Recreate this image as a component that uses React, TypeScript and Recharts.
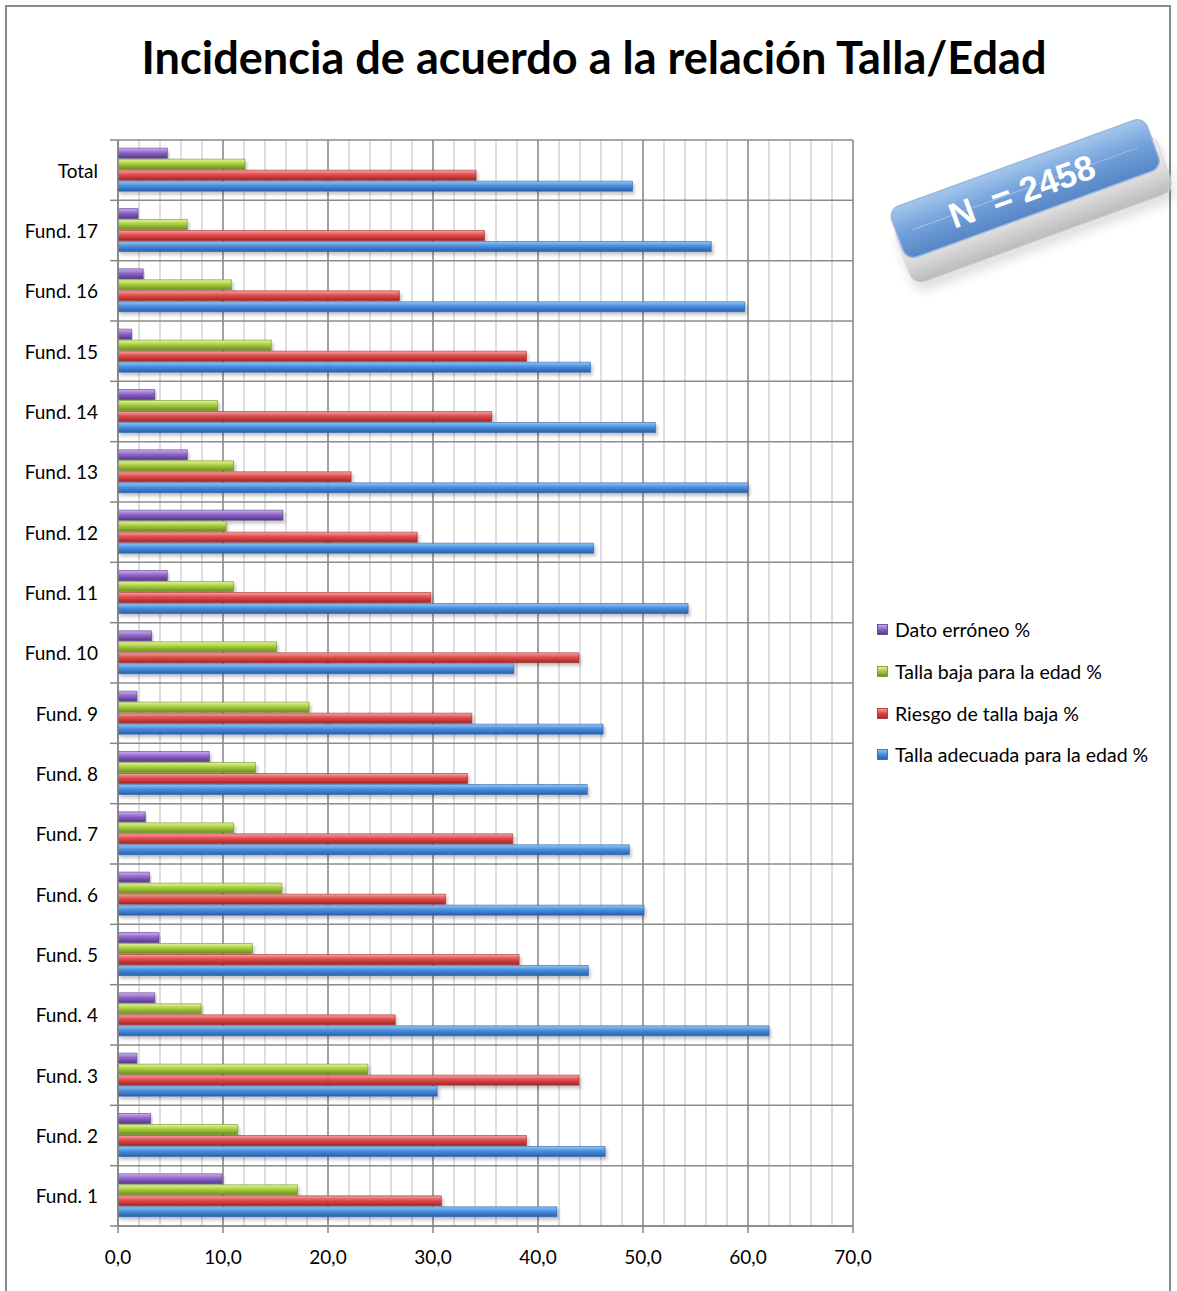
import React from 'react';
import { BarChart, Bar, XAxis, YAxis, CartesianGrid, Legend } from 'recharts';

const categories = ['Fund. 1', 'Fund. 2', 'Fund. 3', 'Fund. 4', 'Fund. 5', 'Fund. 6', 'Fund. 7', 'Fund. 8', 'Fund. 9', 'Fund. 10', 'Fund. 11', 'Fund. 12', 'Fund. 13', 'Fund. 14', 'Fund. 15', 'Fund. 16', 'Fund. 17', 'Total'];
const datoErroneo = [9.9, 3.1, 1.8, 3.5, 3.9, 3.0, 2.6, 8.7, 1.8, 3.2, 4.7, 15.7, 6.6, 3.5, 1.3, 2.4, 1.9, 4.7];
const tallaBaja = [17.1, 11.4, 23.8, 7.9, 12.8, 15.6, 11.0, 13.1, 18.2, 15.1, 11.0, 10.3, 11.0, 9.5, 14.6, 10.8, 6.6, 12.1];
const riesgo = [30.8, 38.9, 43.9, 26.4, 38.2, 31.2, 37.6, 33.3, 33.7, 43.9, 29.8, 28.5, 22.2, 35.6, 38.9, 26.8, 34.9, 34.1];
const adecuada = [41.8, 46.4, 30.4, 62.0, 44.8, 50.1, 48.7, 44.7, 46.2, 37.7, 54.3, 45.3, 60.0, 51.2, 45.0, 59.7, 56.5, 49.0];

const seriesNames = ['Dato erróneo %', 'Talla baja para la edad %', 'Riesgo de talla baja %', 'Talla adecuada para la edad %'];
const seriesKeys = ['dato', 'baja', 'riesgo', 'adecuada'];
const xTicks = [0, 10, 20, 30, 40, 50, 60, 70];
const minorTicks = [0, 2, 4, 6, 8, 10, 12, 14, 16, 18, 20, 22, 24, 26, 28, 30, 32, 34, 36, 38, 40, 42, 44, 46, 48, 50, 52, 54, 56, 58, 60, 62, 64, 66, 68, 70];
const X_MAX = 70;
const title = 'Incidencia de acuerdo a la relación Talla/Edad';
const badgeText = 'N  = 2458';

const gradients = [
  { id: 'gPurple', stops: ['#cdb0f0', '#8f66c8', '#56378a'] },
  { id: 'gGreen', stops: ['#e4f79a', '#a9cd3e', '#6a8e22'] },
  { id: 'gRed', stops: ['#f6a6a6', '#e04c4c', '#a32626'] },
  { id: 'gBlue', stops: ['#93c8f6', '#4a8fdc', '#2860ab'] },
];

const data = categories
  .map((c, i) => ({ name: c, dato: datoErroneo[i], baja: tallaBaja[i], riesgo: riesgo[i], adecuada: adecuada[i] }))
  .reverse();

const FONT = 'Lato, "Open Sans", sans-serif';
const LABEL_SIZE = 19;
const LEGEND_SIZE = 19.5;

const YTick = (props: any) => {
  const { x, y, payload, index } = props;
  const band = 1086 / categories.length;
  const axisX = 118;
  return (
    <g>
      <line x1={axisX - 8} x2={axisX} y1={y - band / 2} y2={y - band / 2} stroke="#868686" strokeWidth={1.5} />
      {index === categories.length - 1 && (
        <line x1={axisX - 8} x2={axisX} y1={y + band / 2} y2={y + band / 2} stroke="#868686" strokeWidth={1.5} />
      )}
      <text x={x - 12} y={y} textAnchor="end" dominantBaseline="central" fontSize={LABEL_SIZE} fontFamily={FONT} fill="#000">
        {payload.value}
      </text>
    </g>
  );
};

const LegendContent = () => (
  <div style={{ fontFamily: FONT, fontSize: LEGEND_SIZE, color: '#000' }}>
    {seriesNames.map((name, i) => (
      <div key={name} style={{ height: 41.7, display: 'flex', alignItems: 'center' }}>
        <svg width={11} height={11} style={{ marginRight: 7 }}>
          <defs>
            <linearGradient id={`${gradients[i].id}L`} x1="0" y1="0" x2="0" y2="1">
              <stop offset="0" stopColor={gradients[i].stops[0]} />
              <stop offset="0.45" stopColor={gradients[i].stops[1]} />
              <stop offset="1" stopColor={gradients[i].stops[2]} />
            </linearGradient>
          </defs>
          <rect x={0.5} y={0.5} width={10} height={10} fill={`url(#${gradients[i].id}L)`} stroke={gradients[i].stops[2]} strokeWidth={0.8} />
        </svg>
        <span>{name}</span>
      </div>
    ))}
  </div>
);

const Badge = () => (
  <svg width={300} height={210} style={{ position: 'absolute', left: 877, top: 95 }}>
    <defs>
      <linearGradient id="badgeFace" x1="0" y1="0" x2="0" y2="1">
        <stop offset="0" stopColor="#a4c6ec" />
        <stop offset="0.5" stopColor="#72a0d9" />
        <stop offset="1" stopColor="#5586c6" />
      </linearGradient>
      <linearGradient id="badgeBase" x1="0" y1="0" x2="0" y2="1">
        <stop offset="0" stopColor="#f6f6f6" />
        <stop offset="0.6" stopColor="#dadada" />
        <stop offset="1" stopColor="#b4b4b4" />
      </linearGradient>
      <filter id="badgeShadow" x="-20%" y="-20%" width="140%" height="160%">
        <feDropShadow dx="0" dy="8" stdDeviation="6" floodColor="#000" floodOpacity="0.15" />
      </filter>
    </defs>
    <g transform="translate(152,104) rotate(-20)">
      <rect x={-138} y={-20} width={278} height={62} rx={12} fill="url(#badgeBase)" stroke="#cfcfcf" filter="url(#badgeShadow)" opacity={0.9} />
      <rect x={-136} y={-38} width={272} height={54} rx={11} fill="url(#badgeFace)" stroke="#9cb9dd" strokeWidth={1.5} />
      <line x1={-120} x2={120} y1={-11} y2={-11} stroke="#ffffff" strokeOpacity={0.35} />
      <text x={-4} y={-10} textAnchor="middle" dominantBaseline="central" fontFamily='"Liberation Sans", Arial, sans-serif' fontWeight="bold" fontSize={35} fill="#ffffff" style={{ whiteSpace: 'pre' }}>
        {badgeText}
      </text>
    </g>
  </svg>
);

export default function App() {
  return (
    <div style={{ position: 'absolute', left: 0, top: 0, width: 1177, height: 1291, background: '#fff', overflow: 'hidden' }}>
      <div style={{ position: 'absolute', left: 5, top: 5, width: 1166, height: 1300, border: '2px solid #8a8a8a', boxSizing: 'border-box' }} />
      <svg width={1177} height={110} style={{ position: 'absolute', left: 0, top: 0 }}>
        <text x={594} y={74} textAnchor="middle" fontFamily={FONT} fontWeight="bold" fontSize={45} textLength={905} lengthAdjust="spacingAndGlyphs" fill="#000">
          {title}
        </text>
      </svg>
      <Badge />
      <div style={{ position: 'absolute', left: 0, top: 0 }}>
        <BarChart
          width={1177}
          height={1291}
          data={data}
          layout="vertical"
          margin={{ top: 140, right: 24, bottom: 35, left: 18 }}
          barCategoryGap="13.5%"
          barGap={1}
        >
          <defs>
            {gradients.map((g) => (
              <linearGradient key={g.id} id={g.id} x1="0" y1="0" x2="0" y2="1">
                <stop offset="0" stopColor={g.stops[0]} />
                <stop offset="0.45" stopColor={g.stops[1]} />
                <stop offset="1" stopColor={g.stops[2]} />
              </linearGradient>
            ))}
            <filter id="barShadow" x="-5%" y="-40%" width="110%" height="200%">
              <feDropShadow dx="2" dy="3" stdDeviation="1.5" floodColor="#000" floodOpacity="0.22" />
            </filter>
          </defs>
          <CartesianGrid
            horizontal={false}
            stroke="#bdbdbd"
            strokeWidth={1}
            verticalCoordinatesGenerator={({ offset }: any) => minorTicks.map((v) => offset.left + (v / X_MAX) * offset.width)}
          />
          <CartesianGrid
            stroke="#8c8c8c"
            strokeWidth={1.5}
            verticalCoordinatesGenerator={({ offset }: any) => xTicks.map((v) => offset.left + (v / X_MAX) * offset.width)}
            horizontalCoordinatesGenerator={({ offset }: any) =>
              Array.from({ length: categories.length + 1 }, (_, i) => offset.top + (i * offset.height) / categories.length)
            }
          />
          <XAxis
            type="number"
            domain={[0, X_MAX]}
            ticks={xTicks}
            height={30}
            tickSize={7}
            tickMargin={18}
            stroke="#868686"
            tickLine={{ stroke: '#868686', strokeWidth: 1.5 }}
            axisLine={{ stroke: '#868686', strokeWidth: 1.5 }}
            tick={{ fontSize: LABEL_SIZE, fontFamily: FONT, fill: '#000' }}
            tickFormatter={(v: number) => v.toFixed(1).replace('.', ',')}
            interval={0}
          />
          <YAxis
            type="category"
            dataKey="name"
            width={100}
            tickLine={false}
            axisLine={{ stroke: '#868686', strokeWidth: 1.5 }}
            tick={<YTick />}
            interval={0}
          />
          <Legend
            layout="horizontal"
            verticalAlign="middle"
            align="right"
            content={<LegendContent />}
            wrapperStyle={{ position: 'absolute', left: 877, top: 609, width: 300, height: 170 }}
          />
          {seriesKeys.map((k, i) => (
            <Bar
              key={k}
              dataKey={k}
              name={seriesNames[i]}
              fill={`url(#${gradients[i].id})`}
              stroke={gradients[i].stops[2]}
              strokeWidth={0.6}
              filter="url(#barShadow)"
              isAnimationActive={false}
            />
          ))}
        </BarChart>
      </div>
    </div>
  );
}
